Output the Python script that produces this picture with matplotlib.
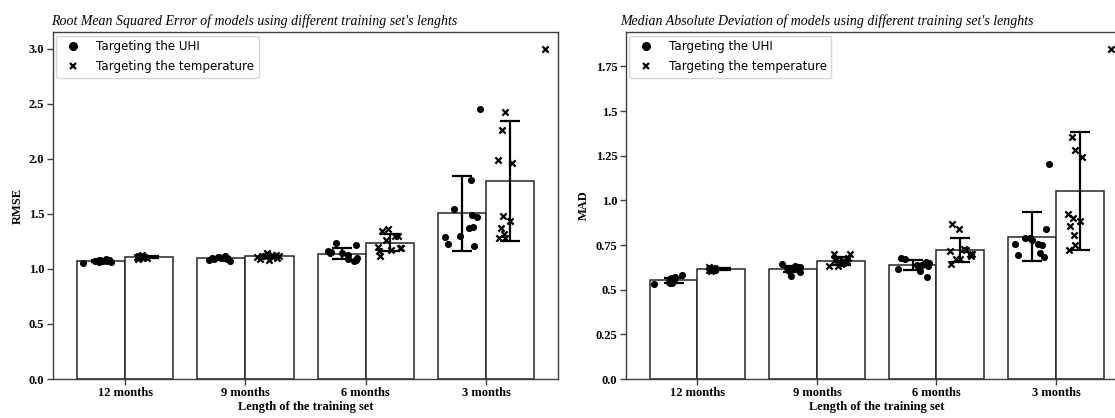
import numpy as np
import matplotlib
matplotlib.use("Agg")
import matplotlib.pyplot as plt
from matplotlib.lines import Line2D

# ---------------- data ----------------
categories = ["12 months", "9 months", "6 months", "3 months"]
series_names = ["Targeting the UHI", "Targeting the temperature"]

rmse_uhi = [
    [1.05, 1.06, 1.065, 1.07, 1.075, 1.075, 1.08, 1.08, 1.082, 1.079, 1.085],
    [1.07, 1.08, 1.085, 1.09, 1.095, 1.10, 1.10, 1.105, 1.11, 1.11, 1.115],
    [1.233, 1.215, 1.16, 1.15, 1.145, 1.14, 1.13, 1.10, 1.09, 1.08, 1.07],
    [2.455, 1.81, 1.54, 1.49, 1.475, 1.37, 1.38, 1.29, 1.30, 1.23, 1.21],
]
rmse_temp = [
    [1.09, 1.095, 1.10, 1.10, 1.105, 1.105, 1.11, 1.11, 1.115, 1.12, 1.13],
    [1.08, 1.09, 1.10, 1.105, 1.11, 1.115, 1.12, 1.12, 1.125, 1.13, 1.14],
    [1.364, 1.345, 1.294, 1.264, 1.19, 1.185, 1.167, 1.164, 1.121, 1.20, 1.30],
    [3.0, 2.42, 2.26, 1.985, 1.96, 1.48, 1.43, 1.375, 1.315, 1.28, 1.28],
]
mad_uhi = [
    [0.53, 0.58, 0.535, 0.54, 0.545, 0.55, 0.555, 0.56, 0.565, 0.57, 0.55],
    [0.641, 0.576, 0.60, 0.605, 0.61, 0.615, 0.62, 0.62, 0.625, 0.63, 0.625],
    [0.675, 0.67, 0.613, 0.605, 0.656, 0.635, 0.65, 0.572, 0.64, 0.65, 0.64],
    [1.205, 0.842, 0.792, 0.792, 0.755, 0.758, 0.749, 0.706, 0.684, 0.693, 0.78],
]
mad_temp = [
    [0.605, 0.61, 0.61, 0.612, 0.615, 0.615, 0.617, 0.618, 0.62, 0.62, 0.625],
    [0.699, 0.699, 0.633, 0.633, 0.642, 0.66, 0.67, 0.65, 0.665, 0.68, 0.66],
    [0.866, 0.838, 0.725, 0.72, 0.715, 0.70, 0.70, 0.69, 0.674, 0.669, 0.643],
    [1.85, 1.355, 1.284, 1.243, 0.926, 0.904, 0.885, 0.859, 0.805, 0.749, 0.721],
]

# horizontal jitter of each point (category units)
rmse_uhi_jitter = [
    [-0.15, -0.02, 0.08, 0.05, -0.05, 0.02, 0.07, -0.01, -0.02, 0.07, 0.04],
    [0.07, -0.10, 0.05, -0.06, 0.02, -0.08, 0.0, -0.03, 0.04, -0.02, 0.03],
    [-0.05, 0.12, -0.11, -0.09, -0.10, 0.0, 0.05, 0.13, 0.05, 0.12, 0.10],
    [0.15, 0.07, -0.07, 0.08, 0.12, 0.06, 0.09, -0.145, -0.02, -0.12, 0.10],
]
rmse_temp_jitter = [
    [-0.09, -0.05, -0.08, -0.02, -0.10, -0.06, -0.04, -0.09, -0.07, -0.08, -0.06],
    [0.0, -0.08, 0.06, -0.10, 0.03, -0.04, 0.08, -0.06, 0.02, 0.05, -0.02],
    [-0.015, -0.065, 0.04, -0.03, 0.085, 0.09, 0.01, -0.09, -0.08, -0.10, 0.07],
    [0.29, -0.04, -0.07, -0.10, 0.015, -0.06, 0.0, -0.08, -0.05, -0.09, -0.04],
]
mad_uhi_jitter = [
    [-0.16, 0.07, -0.03, -0.01, -0.04, -0.02, 0.0, -0.03, -0.02, 0.01, -0.01],
    [-0.09, -0.015, 0.06, -0.03, 0.05, 0.0, 0.03, -0.05, 0.04, 0.02, 0.06],
    [-0.10, -0.06, -0.12, 0.06, 0.11, 0.13, 0.14, 0.12, 0.08, 0.10, 0.04],
    [0.145, 0.12, -0.06, -0.02, -0.145, 0.05, 0.085, 0.07, 0.10, -0.12, 0.0],
]
mad_temp_jitter = [
    [-0.09, -0.06, -0.10, -0.07, -0.08, -0.05, -0.09, -0.07, -0.06, -0.08, -0.10],
    [-0.06, 0.08, -0.10, -0.02, 0.0, 0.05, -0.03, 0.02, -0.05, 0.06, 0.03],
    [-0.07, -0.01, 0.03, 0.05, -0.09, 0.08, 0.10, 0.09, 0.0, -0.04, -0.08],
    [0.26, -0.07, -0.04, 0.015, -0.10, -0.055, 0.0, -0.08, -0.05, -0.04, -0.09],
]

rmse_yticks = [0.0, 0.5, 1.0, 1.5, 2.0, 2.5, 3.0]
mad_yticks = [0.0, 0.25, 0.5, 0.75, 1.0, 1.25, 1.5, 1.75]

titles = ["Root Mean Squared Error of models using different training set's lenghts",
          "Median Absolute Deviation of models using different training set's lenghts"]
ylabels = ["RMSE", "MAD"]
xlabel = "Length of the training set"

# ---------------- figure ----------------
W, H = 1115, 418
fig = plt.figure(figsize=(W / 100, H / 100), dpi=100)

SERIF = "Liberation Serif"


def px_axes(l, r, t, b):
    return fig.add_axes([l / W, 1 - b / H, (r - l) / W, (b - t) / H])


def draw(ax, uhi, temp, uj, tj, ylabel, yticks):
    x = np.arange(len(categories))
    width = 0.4
    groups = [(uhi, uj, -0.2, "o"), (temp, tj, 0.2, "x")]
    for vals, jit, off, marker in groups:
        means = [np.mean(v) for v in vals]
        sds = [np.std(v) for v in vals]
        ax.bar(x + off, means, width, color="white", edgecolor="#262626",
               linewidth=1.1, zorder=1)
        ax.errorbar(x + off, means, yerr=sds, fmt="none", ecolor="black",
                    elinewidth=1.6, capsize=7, capthick=1.6, zorder=2)
        for i in range(len(categories)):
            xs = x[i] + off + np.array(jit[i])
            if marker == "o":
                ax.scatter(xs, vals[i], marker="o", s=26, color="black",
                           linewidths=0, zorder=3)
            else:
                ax.scatter(xs, vals[i], marker="x", s=20, color="black",
                           linewidths=1.6, zorder=3)
    ax.set_xlim(-0.6, 3.6)
    ax.set_xticks(x)
    ax.set_xticklabels(categories, fontfamily=SERIF, fontweight="bold", fontsize=9)
    ax.set_yticks(yticks)
    ax.set_yticklabels([str(t) for t in yticks], fontfamily=SERIF,
                       fontweight="bold", fontsize=9)
    ax.set_xlabel(xlabel, fontfamily=SERIF, fontweight="bold", fontsize=9, labelpad=1)
    ax.set_ylabel(ylabel, fontfamily=SERIF, fontweight="bold", fontsize=9)
    for s in ax.spines.values():
        s.set_color("#404040")
        s.set_linewidth(1.0)
    ax.tick_params(axis="both", length=4, width=1, color="#404040", pad=2)
    handles = [Line2D([], [], marker="o", linestyle="none", color="black", markersize=5.5),
               Line2D([], [], marker="x", linestyle="none", color="black", markersize=5,
                      markeredgewidth=1.6)]
    ax.legend(handles, series_names, loc="upper left", fontsize=8.6,
              handletextpad=0.9, labelspacing=0.55, borderaxespad=0.3,
              edgecolor="#cccccc")


ax1 = px_axes(52.8, 558.4, 32, 379)
ax2 = px_axes(625.7, 1127.7, 32, 379)

draw(ax1, rmse_uhi, rmse_temp, rmse_uhi_jitter, rmse_temp_jitter, ylabels[0], rmse_yticks)
draw(ax2, mad_uhi, mad_temp, mad_uhi_jitter, mad_temp_jitter, ylabels[1], mad_yticks)
ax1.set_ylim(0, 3.15)
ax2.set_ylim(0, 1.9425)

fig.text(254 / W, 1 - 21 / H, titles[0], ha="center", va="center",
         fontfamily=SERIF, fontstyle="italic", fontsize=10)
fig.text(827 / W, 1 - 21 / H, titles[1], ha="center", va="center",
         fontfamily=SERIF, fontstyle="italic", fontsize=10)

fig.savefig("out.png", dpi=100)
